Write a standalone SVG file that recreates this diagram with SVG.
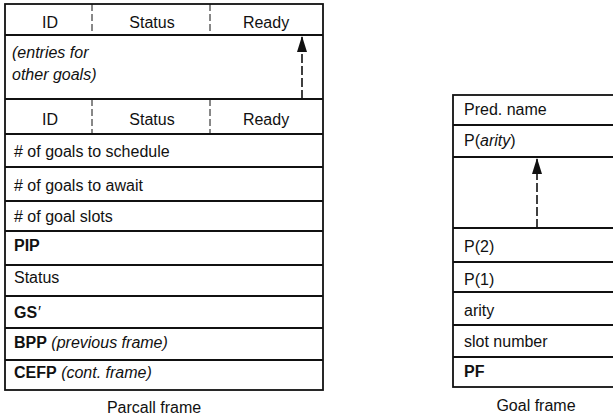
<svg xmlns="http://www.w3.org/2000/svg" width="613" height="420" viewBox="0 0 613 420">
<defs>
<style>
text{font-family:"Liberation Sans",Arial,sans-serif;font-size:16px;fill:#111}
.b{font-weight:bold}
.i{font-style:italic}
.c{text-anchor:middle}
.box{fill:#fff;stroke:#111;stroke-width:1.8}
.sep{stroke:#111;stroke-width:1.8}
.dv{stroke:#111;stroke-width:1;stroke-dasharray:7,3}
.arr{stroke:#111;stroke-width:1.6;stroke-dasharray:9,3;fill:none}
</style>
<marker id="ah" viewBox="0 0 16 10" refX="15" refY="5" markerWidth="17" markerHeight="10" markerUnits="userSpaceOnUse" orient="auto">
<path d="M0,0 L16,5 L0,10 z" fill="#111"/>
</marker>
</defs>
<rect width="613" height="420" fill="#fff"/>

<g id="parcall-frame">
<rect class="box" x="5" y="4" width="318" height="386"/>
<line class="sep" x1="5" y1="35" x2="323" y2="35"/>
<line class="sep" x1="5" y1="99" x2="323" y2="99"/>
<line class="sep" x1="5" y1="134" x2="323" y2="134"/>
<line class="sep" x1="5" y1="167" x2="323" y2="167"/>
<line class="sep" x1="5" y1="201" x2="323" y2="201"/>
<line class="sep" x1="5" y1="231" x2="323" y2="231"/>
<line class="sep" x1="5" y1="265" x2="323" y2="265"/>
<line class="sep" x1="5" y1="296" x2="323" y2="296"/>
<line class="sep" x1="5" y1="328" x2="323" y2="328"/>
<line class="sep" x1="5" y1="360" x2="323" y2="360"/>
<line class="dv" x1="92" y1="4" x2="92" y2="35"/>
<line class="dv" x1="210" y1="4" x2="210" y2="35"/>
<line class="dv" x1="92" y1="99" x2="92" y2="134"/>
<line class="dv" x1="210" y1="99" x2="210" y2="134"/>
<text class="c" x="50" y="28">ID</text>
<text class="c" x="152" y="28">Status</text>
<text class="c" x="266" y="28">Ready</text>
<text class="i" x="12" y="58">(entries for</text>
<text class="i" x="12" y="80">other goals)</text>
<text class="c" x="50" y="125">ID</text>
<text class="c" x="152" y="125">Status</text>
<text class="c" x="266" y="125">Ready</text>
<text x="14" y="157"># of goals to schedule</text>
<text x="14" y="191"># of goals to await</text>
<text x="14" y="222"># of goal slots</text>
<text class="b" x="14" y="251">PIP</text>
<text x="14" y="283">Status</text>
<text class="b" x="14" y="318">GS<tspan class="i" font-weight="normal">′</tspan></text>
<text x="14" y="348"><tspan class="b">BPP</tspan> <tspan class="i">(previous frame)</tspan></text>
<text x="14" y="378"><tspan class="b">CEFP</tspan> <tspan class="i">(cont. frame)</tspan></text>
<text class="c" x="154" y="413">Parcall frame</text>
</g>

<g id="goal-frame">
<rect class="box" x="453" y="95" width="180" height="292"/>
<line class="sep" x1="453" y1="125" x2="613" y2="125"/>
<line class="sep" x1="453" y1="157" x2="613" y2="157"/>
<line class="sep" x1="453" y1="228" x2="613" y2="228"/>
<line class="sep" x1="453" y1="262" x2="613" y2="262"/>
<line class="sep" x1="453" y1="292" x2="613" y2="292"/>
<line class="sep" x1="453" y1="325" x2="613" y2="325"/>
<line class="sep" x1="453" y1="357" x2="613" y2="357"/>
<text x="464" y="115">Pred. name</text>
<text x="464" y="146">P(<tspan class="i">arity</tspan>)</text>
<text x="464" y="252">P(2)</text>
<text x="464" y="285">P(1)</text>
<text x="464" y="316">arity</text>
<text x="464" y="347">slot number</text>
<text class="b" x="464" y="377">PF</text>
<text class="c" x="536" y="411">Goal frame</text>
</g>

<g id="connectors">
<line class="arr" x1="302" y1="99" x2="302" y2="37" marker-end="url(#ah)"/>
<line class="arr" x1="537" y1="228" x2="537" y2="159" marker-end="url(#ah)"/>
</g>
</svg>
